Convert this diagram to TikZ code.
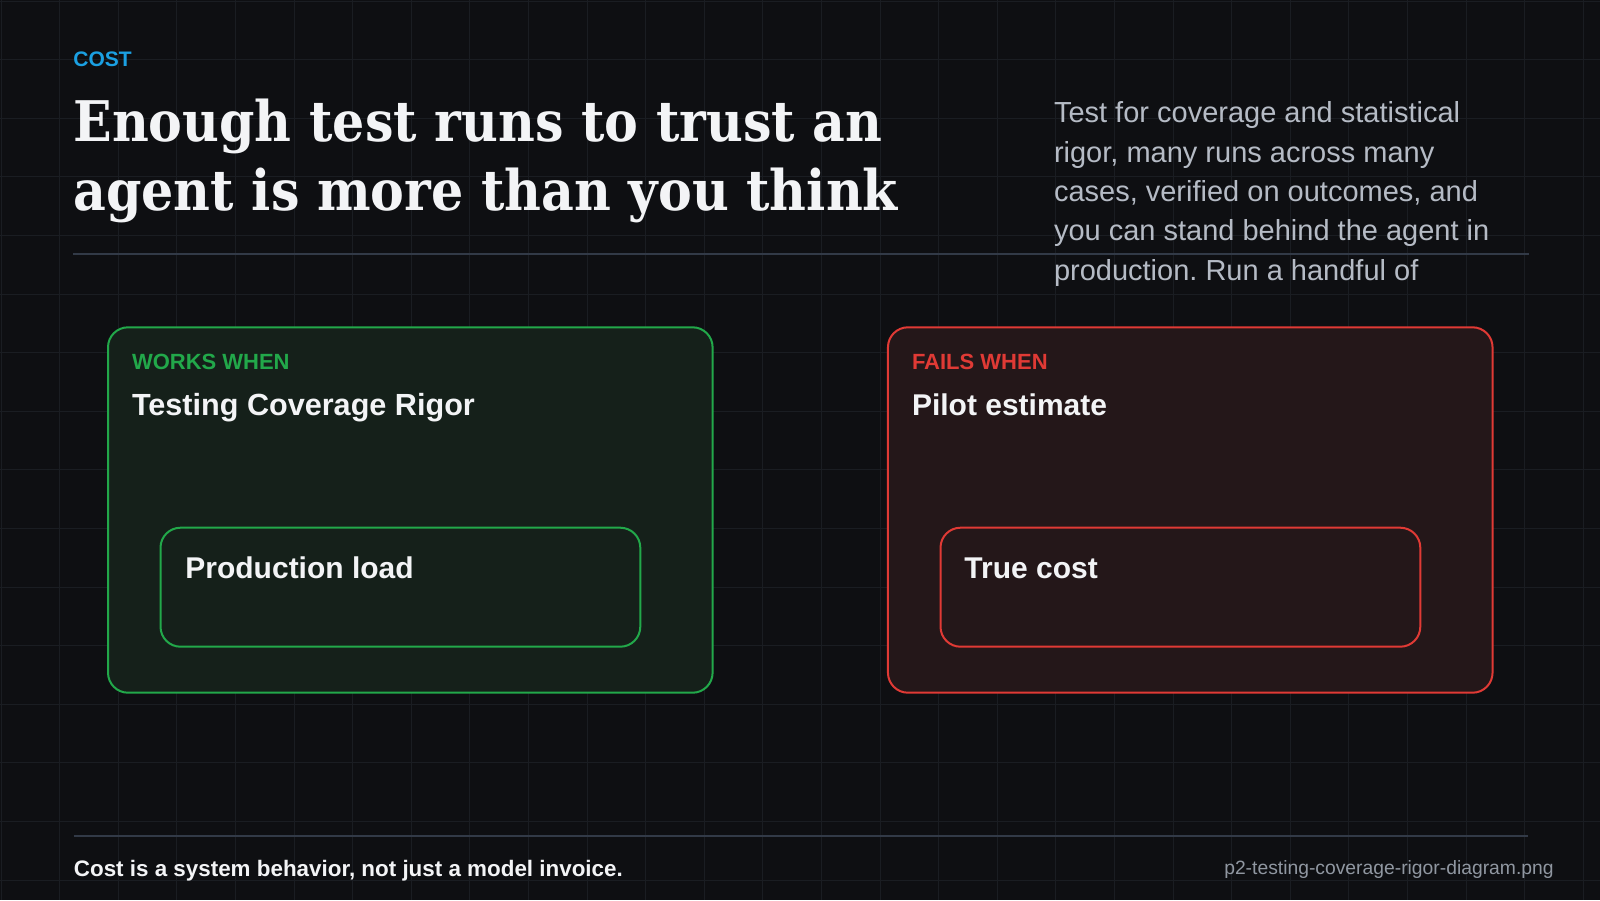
\documentclass[tikz,border=0pt]{standalone}
\usepackage{fontspec}
\usepackage{xcolor}
\setmainfont{Liberation Sans}
\newfontfamily\titlefont{DejaVu Serif}[FakeStretch=0.905]
\frenchspacing
\definecolor{bgdark}{HTML}{0E0F12}
\definecolor{gridgray}{HTML}{1A1D22}
\definecolor{rulegray}{HTML}{323A47}
\definecolor{costblue}{HTML}{1BA0E2}
\definecolor{okgreen}{HTML}{22A84A}
\definecolor{okfill}{HTML}{15201A}
\definecolor{badred}{HTML}{E03A35}
\definecolor{badfill}{HTML}{241719}
\definecolor{bodygray}{HTML}{B5BBC5}
\definecolor{notegray}{HTML}{9097A1}
\definecolor{inkwhite}{HTML}{F3F4F6}

\begin{document}
\begin{tikzpicture}[x=0.5pt,y=-0.5pt,
  txt/.style={inner sep=0pt, anchor=base west, text=inkwhite},
  card/.style={draw=#1, line width=1pt, rounded corners=10pt,
    minimum width=302.3pt, minimum height=182.7pt, inner sep=0pt},
  slot/.style={draw=#1, line width=1pt, rounded corners=10pt,
    minimum width=239.9pt, minimum height=59.5pt, inner sep=0pt}]
  % Background and faint grid
  \useasboundingbox (0,0) rectangle (1600,900);
  \fill[bgdark] (0,0) rectangle (1600,900);
  \foreach \i in {0,...,27}
    \draw[gridgray, line width=0.5pt] ({1+\i*58.6},0) -- ++(0,900);
  \foreach \j in {0,...,15}
    \draw[gridgray, line width=0.5pt] (0,{1+\j*58.6}) -- ++(1600,0);

  % Header (multi-line nodes sit on their last baseline)
  \node[txt, text=costblue, font=\bfseries\fontsize{10.5pt}{12pt}\selectfont] (kicker) at (73,66) {COST};
  \node[txt, align=left, font=\titlefont\bfseries\fontsize{28pt}{34.5pt}\selectfont] (headline) at (73,210)
    {Enough test runs to trust an\\agent is more than you think};
  \node[txt, text=bodygray, align=left, font=\fontsize{14.5pt}{19.65pt}\selectfont] (blurb) at (1053.6,280)
    {Test for coverage and statistical\\rigor, many runs across many\\cases, verified on outcomes, and\\you can stand behind the agent in\\production. Run a handful of};
  \draw[rulegray, line width=1pt] (73,254) -- (1529,254);

  % Left card
  \node[card=okgreen, fill=okfill] (works) at (410.3,510) {};
  \node[txt, text=okgreen, font=\bfseries\fontsize{11pt}{13pt}\selectfont] (worksTag) at (131.6,369) {WORKS WHEN};
  \node[txt, font=\bfseries\fontsize{15.3pt}{18pt}\selectfont] (worksTitle) at (131.6,415.7) {Testing Coverage Rigor};
  \node[slot=okgreen] (prodLoad) at (400.4,587.2) {};
  \node[txt, font=\bfseries\fontsize{15pt}{18pt}\selectfont] (prodText) at (185,578.3) {Production load};

  % Right card
  \node[card=badred, fill=badfill] (fails) at (1190.25,510) {};
  \node[txt, text=badred, font=\bfseries\fontsize{11pt}{13pt}\selectfont] (failsTag) at (911.6,369) {FAILS WHEN};
  \node[txt, font=\bfseries\fontsize{15pt}{18pt}\selectfont] (failsTitle) at (911.6,415.7) {Pilot estimate};
  \node[slot=badred] (trueCost) at (1180.4,587.2) {};
  \node[txt, font=\bfseries\fontsize{15pt}{18pt}\selectfont] (costText) at (964,578.3) {True cost};

  % Footer
  \draw[rulegray, line width=1pt] (73.5,835.7) -- (1528,835.7);
  \node[txt, font=\bfseries\fontsize{11.2pt}{13pt}\selectfont] (takeaway) at (73.5,876.7)
    {Cost is a system behavior, not just a model invoice.};
  \node[txt, anchor=base east, text=notegray, font=\fontsize{9.65pt}{11pt}\selectfont] (filename) at (1554,874)
    {p2-testing-coverage-rigor-diagram.png};
\end{tikzpicture}
\end{document}
